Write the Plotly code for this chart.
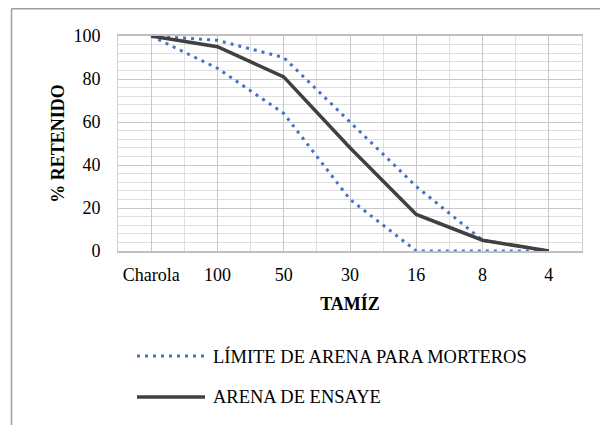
"""Curva granulométrica: arena de ensaye vs límites para morteros."""

import plotly.graph_objects as go

# Datos
tamices = ["Charola", "100", "50", "30", "16", "8", "4"]
limite_superior = [100, 98, 90, 60, 30, 5, 0]
limite_inferior = [100, 85, 64, 24, 0, 0, 0]
arena_ensaye = [100, 95, 81, 48, 17, 5, 0]

# la página deja 8 px de margen en el body: se descuentan aquí
W, H = 600, 417
L, R, T, B = 110, 26, 28, 174
PW, PH = W - L - R, H - T - B

FONT = "Liberation Serif"
SIZE = 18
AZUL = "#4472C4"
GRIS = "#404040"

x = list(range(len(tamices)))

fig = go.Figure()

# Límite superior e inferior (línea punteada azul)
for serie in (limite_superior, limite_inferior):
    fig.add_trace(
        go.Scatter(
            x=x,
            y=serie,
            mode="lines",
            line=dict(color=AZUL, width=3, dash="3px,5px"),
            showlegend=False,
        )
    )

# Arena de ensaye (línea sólida)
fig.add_trace(
    go.Scatter(
        x=x,
        y=arena_ensaye,
        mode="lines",
        line=dict(color=GRIS, width=3.5),
        showlegend=False,
    )
)


def px_to_paper(xp, yp):
    return (xp - L) / PW, (T + PH - yp) / PH


# Leyenda dibujada a mano (muestras largas como en el original)
shapes = []
annotations = []
items = [
    ("LÍMITE DE ARENA PARA MORTEROS", AZUL, 3, "3px,5px", 348),
    ("ARENA DE ENSAYE", GRIS, 3.5, "solid", 389),
]
for texto, color, ancho, estilo, ypx in items:
    x0, y0 = px_to_paper(129, ypx)
    x1, _ = px_to_paper(197, ypx)
    shapes.append(dict(
        type="line", xref="paper", yref="paper",
        x0=x0, x1=x1, y0=y0, y1=y0,
        line=dict(color=color, width=ancho, dash=estilo),
    ))
    xt, _ = px_to_paper(203, ypx)
    annotations.append(dict(
        xref="paper", yref="paper", x=xt, y=y0,
        xanchor="left", yanchor="middle", showarrow=False,
        text=texto, font=dict(family=FONT, size=SIZE + 0.5, color="#000000"),
    ))

# Borde del área del gráfico (solo se ven el lado superior e izquierdo)
bx0, by0 = px_to_paper(3.5, H)
bx1, by1 = px_to_paper(W, 0.8)
shapes.append(dict(type="line", xref="paper", yref="paper",
                   x0=bx0, x1=bx1, y0=by1, y1=by1,
                   line=dict(color="#a0a0a0", width=1.5)))
shapes.append(dict(type="line", xref="paper", yref="paper",
                   x0=bx0, x1=bx0, y0=by0, y1=by1,
                   line=dict(color="#a0a0a0", width=1.5)))

fig.update_layout(
    width=W,
    height=H,
    margin=dict(l=L, r=R, t=T, b=B),
    paper_bgcolor="white",
    plot_bgcolor="white",
    font=dict(family=FONT, size=SIZE, color="#000000"),
    showlegend=False,
    shapes=shapes,
    annotations=annotations,
    xaxis=dict(
        range=[-0.5, len(tamices) - 0.5],
        tickmode="array",
        tickvals=x,
        ticktext=tamices,
        showgrid=True,
        gridcolor="#c8c8c8",
        gridwidth=1,
        minor=dict(dtick=0.5, tick0=-0.5, showgrid=True, gridcolor="#e0e0e0"),
        showline=True,
        linecolor="#bfbfbf",
        linewidth=1.5,
        mirror=True,
        zeroline=False,
        ticks="",
        ticklabelstandoff=7,
        title=dict(text="<b>TAMÍZ</b>", font=dict(family=FONT, size=SIZE), standoff=13),
    ),
    yaxis=dict(
        range=[0, 100],
        dtick=20,
        showgrid=True,
        gridcolor="#c8c8c8",
        minor=dict(dtick=4, showgrid=True, gridcolor="#dedede"),
        showline=True,
        linecolor="#d0d0d0",
        mirror=True,
        zeroline=False,
        ticks="",
        ticklabelstandoff=13,
        title=dict(text="<b>% RETENIDO</b>", font=dict(family=FONT, size=SIZE), standoff=4),
    ),
)

fig.write_html("out.html")
